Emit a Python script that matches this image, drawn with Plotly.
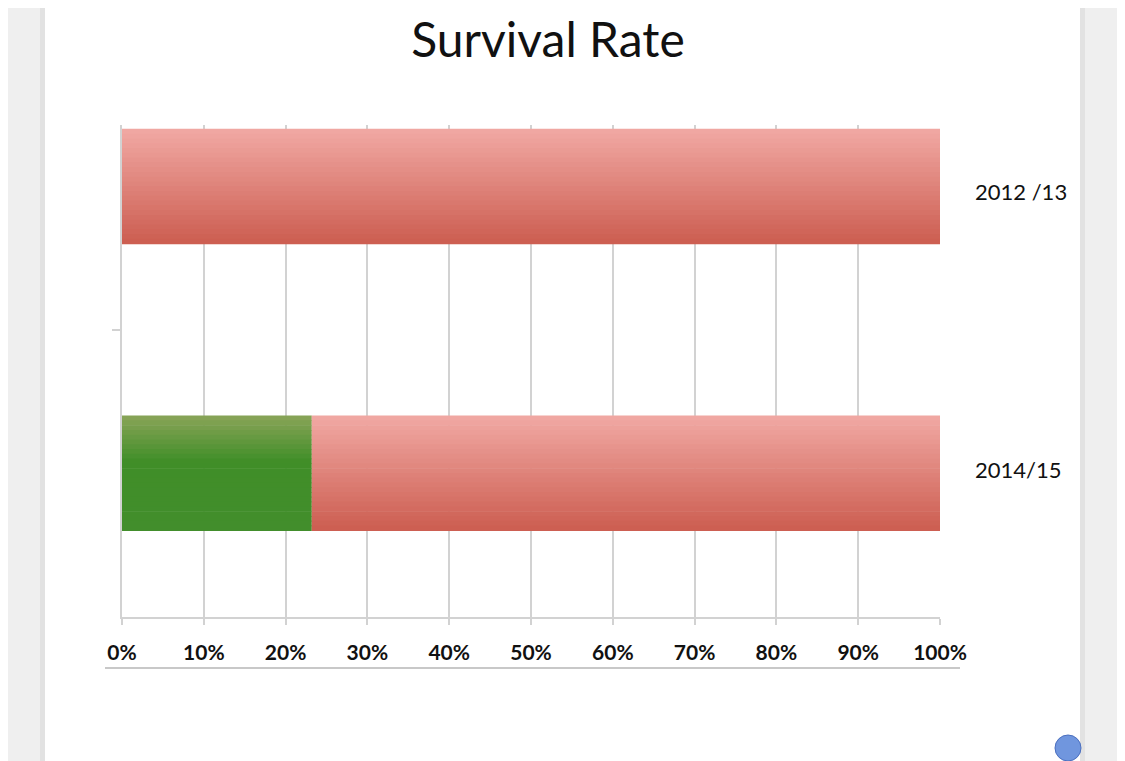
import plotly.graph_objects as go

# data
seasons = ["2012 /13", "2014/15"]
season_pos = [1, 0]          # top to bottom
survived_pct = [0.0, 23.2]
lost_pct = [100.0, 76.8]
tick_vals = [0, 10, 20, 30, 40, 50, 60, 70, 80, 90, 100]
tick_text = ["0%", "10%", "20%", "30%", "40%", "50%", "60%", "70%", "80%", "90%", "100%"]

# the page body adds an 8px margin, so lay things out in window pixels
# and shift by it
OFF = 8
W, H = 1125 - OFF, 761 - OFF
L, T = 122 - OFF, 125 - OFF
R, B = W - (940 - OFF), H - (617 - OFF)
pw, ph = W - L - R, H - T - B


def px(x):
    return (x - 122) / pw


def py(y):
    return (617 - y) / ph


def mix(c1, c2, t):
    return "rgb(%d,%d,%d)" % tuple(round(a + (b - a) * t) for a, b in zip(c1, c2))


def red_at(t):
    return mix((241, 169, 164), (204, 93, 80), t)


def green_at(t):
    if t < 0.4:
        return mix((138, 164, 88), (64, 142, 40), t / 0.4)
    return mix((64, 142, 40), (66, 142, 44), (t - 0.4) / 0.6)


fig = go.Figure()

# bars drawn as thin horizontal strips to fake the vertical gradient
BAR_W = 0.4
N = 24
sw = BAR_W / N
for i in range(N):
    t = (i + 0.5) / N            # 0 = top of bar
    off = BAR_W / 2 - (i + 1) * sw
    fig.add_trace(go.Bar(
        y=season_pos, x=survived_pct, base=[0, 0], orientation="h",
        offset=off, width=sw * 1.15,
        marker=dict(color=green_at(t), line=dict(width=0)),
        name="Survived", hoverinfo="x",
    ))
    fig.add_trace(go.Bar(
        y=season_pos, x=lost_pct, base=survived_pct, orientation="h",
        offset=off, width=sw * 1.15,
        marker=dict(color=red_at(t), line=dict(width=0)),
        name="Lost", hoverinfo="x",
    ))

# season labels on the right of the plot
for name, pos, dy in zip(seasons, season_pos, [-5, 4]):
    fig.add_annotation(
        x=px(973), xref="paper", xanchor="left",
        y=pos, yref="y", yshift=dy,
        text=name, showarrow=False,
        font=dict(family="Lato", size=22, color="#111111"),
    )

shapes = [
    # grey desk behind the page
    dict(type="rect", xref="paper", yref="paper", layer="below",
         x0=px(0), x1=px(1125), y0=py(761), y1=py(0),
         fillcolor="#efefef", line=dict(width=0)),
    dict(type="rect", xref="paper", yref="paper", layer="below",
         x0=px(40), x1=px(46), y0=py(761), y1=py(0),
         fillcolor="#e2e2e2", line=dict(width=0)),
    dict(type="rect", xref="paper", yref="paper", layer="below",
         x0=px(1079), x1=px(1085), y0=py(761), y1=py(0),
         fillcolor="#e2e2e2", line=dict(width=0)),
    # white page
    dict(type="rect", xref="paper", yref="paper", layer="below",
         x0=px(45), x1=px(1080), y0=py(761), y1=py(0),
         fillcolor="white", line=dict(width=0)),
    # rule under the tick labels
    dict(type="line", xref="paper", yref="paper",
         x0=px(105), x1=px(960), y0=py(668), y1=py(668),
         line=dict(color="#c8c8c8", width=2)),
    # little blue dot bottom right
    dict(type="circle", xref="paper", yref="paper",
         x0=px(1055), x1=px(1081), y0=py(761), y1=py(735),
         fillcolor="#7096de", line=dict(color="#4b6fbf", width=1)),
]

fig.update_layout(
    width=W, height=H,
    margin=dict(l=L, r=R, t=T, b=B),
    paper_bgcolor="#efefef",
    plot_bgcolor="rgba(0,0,0,0)",
    barmode="overlay",
    showlegend=False,
    shapes=shapes,
    title=dict(
        text="Survival Rate", x=(548 - OFF) / W, xanchor="center",
        y=1 - (40 - OFF) / H, yanchor="middle",
        font=dict(family="Lato", size=48, color="#111111"),
    ),
    xaxis=dict(
        range=[0, 100], tickvals=tick_vals, ticktext=tick_text,
        showgrid=True, gridcolor="#d2d2d2", gridwidth=1.5,
        showline=True, linecolor="#d2d2d2", linewidth=1.5,
        ticks="outside", ticklen=6, tickcolor="#d2d2d2", tickwidth=1.5,
        ticklabelstandoff=10,
        tickfont=dict(family="Lato", size=21, color="#111111", weight="bold"),
        zeroline=False, fixedrange=True,
    ),
    yaxis=dict(
        range=[-0.5, 1.216], tickvals=[0.5], showticklabels=False,
        showgrid=False, zeroline=False,
        showline=True, linecolor="#d2d2d2", linewidth=1.5,
        ticks="outside", ticklen=8, tickcolor="#d2d2d2", tickwidth=1.5,
        fixedrange=True,
    ),
)

fig.write_html("out.html")
